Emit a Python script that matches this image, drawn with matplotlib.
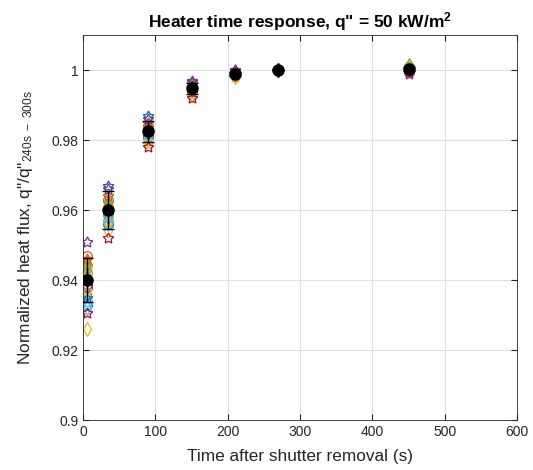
import numpy as np
import matplotlib
matplotlib.use("Agg")
import matplotlib.pyplot as plt

plt.rcParams['font.family'] = ['Liberation Sans', 'DejaVu Sans']
plt.rcParams['mathtext.fontset'] = 'custom'
plt.rcParams['mathtext.rm'] = 'Liberation Sans'
plt.rcParams['mathtext.it'] = 'Liberation Sans'
plt.rcParams['mathtext.bf'] = 'Liberation Sans:bold'

#Data-------------------------------
times = [5, 35, 90, 150, 210, 270, 450]

colors = ['#0072BD', '#D95319', '#EDB120', '#7E2F8E', '#77AC30', '#4DBEEE', '#A2142F']
markers = ['o', 'd', (5, 1, 0)]  # circle, diamond, five point star

# one row per test (7 circles, 7 diamonds, 7 stars)
tests = [
    [0.933, 0.956, 0.981, 0.995, 0.999, 1.0, 1.000],
    [0.947, 0.963, 0.984, 0.995, 0.999, 1.0, 1.001],
    [0.944, 0.961, 0.983, 0.995, 0.999, 1.0, 1.000],
    [0.939, 0.959, 0.982, 0.995, 0.9995, 1.0, 0.9995],
    [0.942, 0.960, 0.983, 0.994, 0.999, 1.0, 1.001],
    [0.934, 0.957, 0.982, 0.995, 0.999, 1.0, 1.000],
    [0.938, 0.959, 0.982, 0.994, 0.999, 1.0, 1.000],
    [0.936, 0.958, 0.983, 0.996, 0.9995, 1.0, 1.0005],
    [0.945, 0.962, 0.984, 0.995, 0.9995, 1.0, 1.000],
    [0.926, 0.954, 0.980, 0.993, 0.998, 1.0, 1.0005],
    [0.941, 0.960, 0.983, 0.995, 0.999, 1.0, 1.000],
    [0.943, 0.961, 0.984, 0.995, 0.999, 1.0, 1.0015],
    [0.932, 0.956, 0.981, 0.994, 0.999, 1.0, 1.000],
    [0.940, 0.960, 0.982, 0.995, 0.999, 1.0, 1.000],
    [0.935, 0.966, 0.987, 0.9965, 1.000, 1.0, 1.001],
    [0.946, 0.964, 0.985, 0.996, 0.9995, 1.0, 1.000],
    [0.937, 0.957, 0.979, 0.993, 0.998, 1.0, 1.001],
    [0.951, 0.967, 0.986, 0.997, 1.000, 1.0, 0.9988],
    [0.944, 0.962, 0.983, 0.995, 0.999, 1.0, 1.000],
    [0.933, 0.958, 0.982, 0.995, 0.999, 1.0, 1.0005],
    [0.9305, 0.952, 0.978, 0.992, 0.9985, 1.0, 0.9995],
]

mean_vals = [0.940, 0.960, 0.9826, 0.9948, 0.999, 1.000, 1.0004]
std_vals = [0.0063, 0.0055, 0.0030, 0.0015, 0.0006, 0.0, 0.0006]
#-----------------------------------

fig = plt.figure(figsize=(5.33, 4.70), dpi=100)
ax = fig.add_axes([0.156, 0.106, 0.814, 0.819])

for i, vals in enumerate(tests):
    ax.plot(times, vals, linestyle='none', marker=markers[i // 7],
            markerfacecolor='none', markeredgecolor=colors[i % 7],
            markersize=8 if i >= 14 else 7, markeredgewidth=0.9)

ax.errorbar(times, mean_vals, yerr=std_vals, fmt='o', color='k',
            markerfacecolor='k', markersize=8, capsize=4, elinewidth=1,
            capthick=1, zorder=5)

ax.set_xlim(0, 600)
ax.set_ylim(0.9, 1.01)
ax.set_xticks(range(0, 601, 100))
ax.set_yticks(np.arange(0.9, 1.001, 0.02))
ax.set_yticklabels(['0.9', '0.92', '0.94', '0.96', '0.98', '1'])
ax.grid(True, color='#dfdfdf', linewidth=0.8)
ax.set_axisbelow(True)
ax.tick_params(direction='in', colors='#262626', labelsize=10, length=4,
               top=True, right=True)
for s in ax.spines.values():
    s.set_color('#262626')
    s.set_linewidth(0.6)

ax.set_xlabel('Time after shutter removal (s)', fontsize=12.4, color='#262626',
              labelpad=7)
ax.set_ylabel('Normalized heat flux, q"/q"$_{\\mathrm{240s\\ -\\ 300s}}$',
              fontsize=12.4, color='#262626', labelpad=12)
ax.set_title('Heater time response, q" = 50 kW/m$^\\mathbf{2}$',
             fontsize=12.5, fontweight='bold', color='k')

fig.savefig('out.png', dpi=100)
